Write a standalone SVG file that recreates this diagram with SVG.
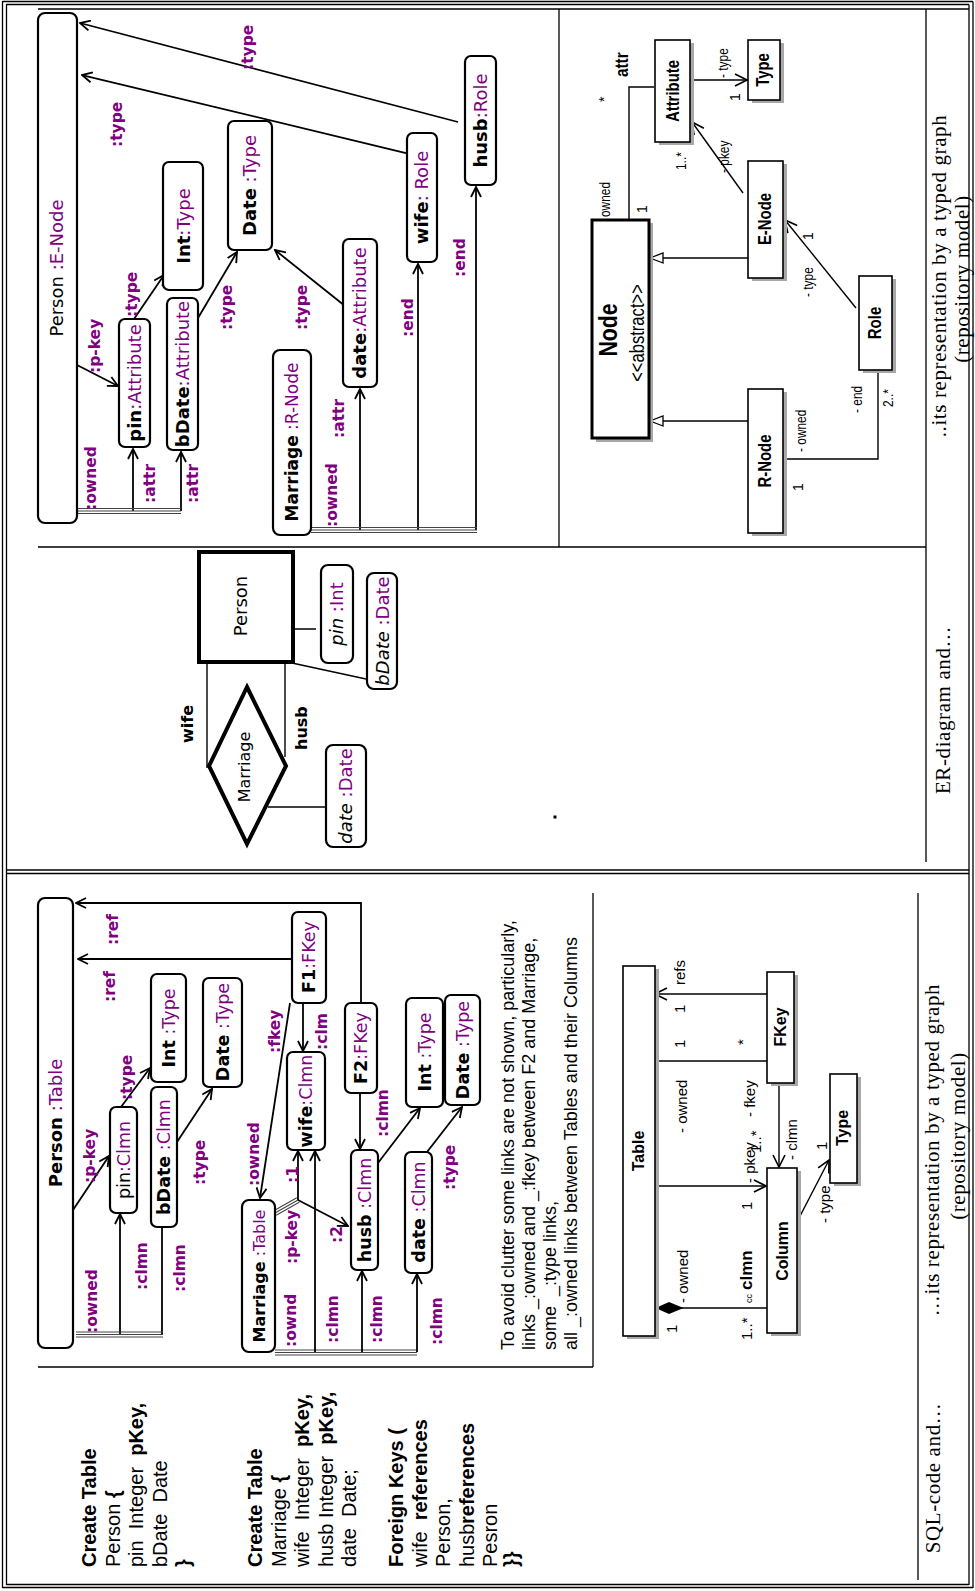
<svg xmlns="http://www.w3.org/2000/svg" width="975" height="1591" viewBox="0 0 975 1591">
<style>
text{font-family:"DejaVu Sans","Liberation Sans",sans-serif;font-size:18px;fill:#000}
.m{text-anchor:middle}
.b{font-weight:bold}
.p{fill:#800080}
.lb{font-size:15.5px;font-weight:bold;fill:#800080}
.er{font-size:18px}
.i{font-style:italic}
.u{font-family:"Liberation Sans",Arial,sans-serif;font-size:18px}
.us{font-family:"Liberation Sans",Arial,sans-serif;font-size:14px}
.ub{font-family:"Liberation Sans",Arial,sans-serif;font-size:16px;font-weight:bold}
.ul2{font-family:"Liberation Sans",Arial,sans-serif;font-size:15px}
.cap{font-family:"Liberation Serif","Times New Roman",serif;font-size:21px;letter-spacing:0.6px}
.sql{font-family:"Liberation Sans",Arial,sans-serif;font-size:20px}
.note{font-family:"Liberation Sans",Arial,sans-serif;font-size:18px}
.nd{fill:#fff;stroke:#000;stroke-width:2.2}
.uml{fill:#fff;stroke:#000;stroke-width:1.6}
.sh{fill:#a8a8a8}
.ln{fill:none;stroke:#000;stroke-width:1.8}
.ul{fill:none;stroke:#000;stroke-width:1.4}
.fr{fill:none;stroke:#000;stroke-width:1.3}
.tr{fill:none;stroke:#444;stroke-width:1.1}
</style>
<defs>
<marker id="a" viewBox="0 0 12 12" refX="11" refY="6" markerWidth="12" markerHeight="12" markerUnits="userSpaceOnUse" orient="auto"><path d="M1,1 L11,6 L1,11" fill="none" stroke="#000" stroke-width="1.8"/></marker>
<marker id="ua" viewBox="0 0 14 14" refX="13" refY="7" markerWidth="14" markerHeight="14" markerUnits="userSpaceOnUse" orient="auto"><path d="M1,1 L13,7 L1,13" fill="none" stroke="#000" stroke-width="1.6"/></marker>
<marker id="gen" viewBox="0 0 15 12" refX="14" refY="6" markerWidth="15" markerHeight="12" markerUnits="userSpaceOnUse" orient="auto"><path d="M1,1 L14,6 L1,11 Z" fill="#fff" stroke="#000" stroke-width="1.3"/></marker>
<marker id="dia" viewBox="0 0 29 14" refX="0" refY="7" markerWidth="29" markerHeight="14" markerUnits="userSpaceOnUse" orient="auto"><path d="M0.5,7 L14,1 L28.5,7 L14,13 Z" fill="#000"/></marker>
</defs>

<g id="frame">
<path class="fr" d="M2.5,1 V1588 M6.5,4 V1585 M2.5,1.5 H973 M6.5,4.5 H969 M969,4.5 V1585 M973,1.5 V1588 M2.5,1587.5 H973 M6.5,1584.5 H969"/>
<path class="fr" d="M38,9 H969 M38,547 H926 M559,9 V547 M926,9 V862 M6.5,870 H969 M6.5,873.5 H969 M593,893 V1367 M918,893 V1580 M38,1367 H593"/>
<rect x="553.5" y="815.5" width="3" height="3" fill="#000"/>
</g>

<g id="captions">
<text class="cap m" transform="translate(946,276) rotate(-90)">..its representation by a typed graph</text>
<text class="cap m" transform="translate(969,279) rotate(-90)">(repository model)</text>
<text class="cap m" transform="translate(950,710) rotate(-90)">ER-diagram and…</text>
<text class="cap m" transform="translate(939,1150) rotate(-90)">…its representation by a typed graph</text>
<text class="cap m" transform="translate(965,1136) rotate(-90)">(repository model)</text>
<text class="cap m" transform="translate(940,1478) rotate(-90)">SQL-code and…</text>
</g>

<g id="connectors">
<path class="ln" marker-end="url(#a)" d="M458,122 L80,23"/>
<path class="ln" marker-end="url(#a)" d="M406,153 L82,75"/>
<path class="ln" marker-end="url(#a)" d="M77,365 L118,386"/>
<path class="ln" marker-end="url(#a)" d="M134,319 L164,275"/>
<path class="ln" marker-end="url(#a)" d="M198,318 L237,252"/>
<path class="ln" marker-end="url(#a)" d="M345,306 L275,250"/>
<path class="ln" marker-end="url(#a)" d="M133,511 L133,449"/>
<path class="ln" marker-end="url(#a)" d="M181,511 L181,452"/>
<path class="ln" marker-end="url(#a)" d="M360,530 L360,389"/>
<path class="ln" marker-end="url(#a)" d="M418,530 L418,264"/>
<path class="ln" marker-end="url(#a)" d="M476,530 L476,187"/>
<path class="tr" d="M78,508.5 H181 M78,511 H181 M78,513.5 H181"/>
<path class="tr" d="M311,527.5 H477 M311,530 H477 M311,532.5 H477"/>

<path class="ul" marker-end="url(#ua)" d="M690,80 H747"/>
<path class="ul" d="M629,220 V87 H654"/>
<path class="ul" marker-end="url(#gen)" d="M748,258 H650"/>
<path class="ul" marker-end="url(#gen)" d="M748,421 H650"/>
<path class="ul" marker-end="url(#ua)" d="M743,193 L692,122"/>
<path class="ul" marker-end="url(#ua)" d="M856,308 L785,220"/>
<path class="ul" d="M783,459 H878 V370"/>

<path class="ul" d="M207,662 V768 M285,662 V757 M293,629 H316 M292,663 L366,679 M268,807 H326"/>

<path class="ln" marker-end="url(#a)" d="M361,1003 V903 H76"/>
<path class="ln" marker-end="url(#a)" d="M292,959 H78"/>
<path class="ln" marker-end="url(#a)" d="M290,1003 L260,1198"/>
<path class="ln" marker-end="url(#a)" d="M303,1003 V1051"/>
<path class="ln" marker-end="url(#a)" d="M360,1093 V1149"/>
<path class="ln" marker-end="url(#a)" d="M378,1163 L420,1108"/>
<path class="ln" marker-end="url(#a)" d="M427,1152 L462,1107"/>
<path class="ln" marker-end="url(#a)" d="M121,1107 L150,1068"/>
<path class="ln" marker-end="url(#a)" d="M177,1142 L212,1089"/>
<path class="ln" marker-end="url(#a)" d="M73,1210 L109,1156"/>
<path class="ln" marker-end="url(#a)" d="M120,1334 V1214"/>
<path class="ln" d="M162,1334 V1228"/>
<path class="tr" d="M76,1332 H163 M76,1334.5 H163 M76,1337 H163"/>
<path class="tr" d="M273.8,1210.8 L296.8,1197.8 M275,1213 L298,1200 M276.2,1215.2 L299.2,1202.2"/>
<path class="ln" marker-end="url(#a)" d="M298,1200 V1151"/>
<path class="ln" marker-end="url(#a)" d="M298,1200 L348,1226"/>
<path class="tr" d="M275,1350 H417 M275,1352.5 H417 M275,1355 H417"/>
<path class="ln" marker-end="url(#a)" d="M315,1352 V1151"/>
<path class="ln" marker-end="url(#a)" d="M362,1352 V1271"/>
<path class="ln" marker-end="url(#a)" d="M417,1352 V1274"/>

<path class="ul" marker-end="url(#ua)" d="M767,994 H655"/>
<path class="ul" d="M654,1061 H767"/>
<path class="ul" marker-end="url(#ua)" d="M654,1186 H766"/>
<path class="ul" marker-end="url(#ua)" d="M779,1083 V1167"/>
<path class="ul" marker-end="url(#ua)" d="M798,1220 L829,1160"/>
<path class="ul" marker-start="url(#dia)" d="M655,1308 H767"/>
</g>

<g id="edge-labels">
<text class="lb" transform="translate(253,70) rotate(-90)">:type</text>
<text class="lb" transform="translate(122,147) rotate(-90)">:type</text>
<text class="lb" transform="translate(100,373) rotate(-90)">:p-key</text>
<text class="lb" transform="translate(137,317) rotate(-90)">:type</text>
<text class="lb" transform="translate(232,330) rotate(-90)">:type</text>
<text class="lb" transform="translate(307,330) rotate(-90)">:type</text>
<text class="lb" transform="translate(96,510) rotate(-90)">:owned</text>
<text class="lb" transform="translate(155,503) rotate(-90)">:attr</text>
<text class="lb" transform="translate(198,503) rotate(-90)">:attr</text>
<text class="lb" transform="translate(337,527) rotate(-90)">:owned</text>
<text class="lb" transform="translate(344,438) rotate(-90)">:attr</text>
<text class="lb" transform="translate(413,337) rotate(-90)">:end</text>
<text class="lb" transform="translate(465,277) rotate(-90)">:end</text>

<text class="lb" transform="translate(118,945) rotate(-90)">:ref</text>
<text class="lb" transform="translate(115,1002) rotate(-90)">:ref</text>
<text class="lb" transform="translate(280,1053) rotate(-90)">:fkey</text>
<text class="lb" transform="translate(259,1186) rotate(-90)">:owned</text>
<text class="lb" transform="translate(327,1050) rotate(-90)">:clm</text>
<text class="lb" transform="translate(388,1137) rotate(-90)">:clmn</text>
<text class="lb" transform="translate(132,1100) rotate(-90)">:type</text>
<text class="lb" transform="translate(205,1185) rotate(-90)">:type</text>
<text class="lb" transform="translate(455,1190) rotate(-90)">:type</text>
<text class="lb" transform="translate(95,1183) rotate(-90)">:p-key</text>
<text class="lb" transform="translate(97,1333) rotate(-90)">:owned</text>
<text class="lb" transform="translate(147,1290) rotate(-90)">:clmn</text>
<text class="lb" transform="translate(185,1292) rotate(-90)">:clmn</text>
<text class="lb" transform="translate(297,1264) rotate(-90)">:p-key</text>
<text class="lb" transform="translate(298,1183) rotate(-90)">:1</text>
<text class="lb" transform="translate(342,1243) rotate(-90)">:2</text>
<text class="lb" transform="translate(296,1347) rotate(-90)">:ownd</text>
<text class="lb" transform="translate(338,1343) rotate(-90)">:clmn</text>
<text class="lb" transform="translate(382,1343) rotate(-90)">:clmn</text>
<text class="lb" transform="translate(442,1345) rotate(-90)">:clmn</text>

<text class="u b" transform="translate(628,77) rotate(-90) scale(0.85,1)">attr</text>
<text class="us" transform="translate(609,102) rotate(-90)">*</text>
<text class="us" transform="translate(728,78) rotate(-90) scale(0.85,1)">- type</text>
<text class="us" transform="translate(740,101) rotate(-90)">1</text>
<text class="us" transform="translate(610,217) rotate(-90) scale(0.85,1)">owned</text>
<text class="us" transform="translate(647,213) rotate(-90)">1</text>
<text class="us" transform="translate(729,173) rotate(-90) scale(0.85,1)">- pkey</text>
<text class="us" transform="translate(686,170) rotate(-90) scale(0.85,1)">1..*</text>
<text class="us" transform="translate(813,297) rotate(-90) scale(0.85,1)">- type</text>
<text class="us" transform="translate(813,240) rotate(-90)">1</text>
<text class="us" transform="translate(806,452) rotate(-90) scale(0.85,1)">- owned</text>
<text class="us" transform="translate(803,491) rotate(-90)">1</text>
<text class="us" transform="translate(862,413) rotate(-90) scale(0.85,1)">- end</text>
<text class="us" transform="translate(893,407) rotate(-90) scale(0.85,1)">2..*</text>

<text class="b er" transform="translate(193,743) rotate(-90)" style="font-size:16px">wife</text>
<text class="b er" transform="translate(307,750) rotate(-90)" style="font-size:16px">husb</text>

<text class="ul2" transform="translate(685,985) rotate(-90)">refs</text>
<text class="ul2" transform="translate(685,1013) rotate(-90)">1</text>
<text class="ul2" transform="translate(685,1048) rotate(-90)">1</text>
<text class="ul2" transform="translate(748,1045) rotate(-90)">*</text>
<text class="ul2" transform="translate(687,1133) rotate(-90)">- owned</text>
<text class="ul2" transform="translate(755,1117) rotate(-90)">- fkey</text>
<text class="ul2" transform="translate(752,1210) rotate(-90)">1</text>
<text class="ul2" transform="translate(755,1183) rotate(-90)">- pkey</text>
<text class="ul2" transform="translate(761,1153) rotate(-90)">1..*</text>
<text class="ul2" transform="translate(797,1160) rotate(-90)">- clmn</text>
<text class="ul2" transform="translate(830,1223) rotate(-90)">- type</text>
<text class="ul2" transform="translate(827,1150) rotate(-90)">1</text>
<text class="ul2" transform="translate(688,1303) rotate(-90)">- owned</text>
<text class="ul2" transform="translate(677,1333) rotate(-90)">1</text>
<text class="ul2" transform="translate(752,1340) rotate(-90)">1..*</text>
<text class="ub" transform="translate(752,1290) rotate(-90)" style="font-size:17px">clmn</text>
<text class="ul2" transform="translate(752,1303) rotate(-90)" style="font-size:9px">cc</text>
</g>

<g id="person-enode"><rect class="nd" x="38" y="13" width="39" height="510" rx="7"/><text class="m" transform="translate(63,268) rotate(-90)">Person <tspan class="p">:E-Node</tspan></text></g>
<g id="pin-attr"><rect class="nd" x="119" y="319" width="31" height="128" rx="6"/><text class="m" transform="translate(141,383) rotate(-90)"><tspan class="b">pin</tspan><tspan class="p">:Attribute</tspan></text></g>
<g id="bdate-attr"><rect class="nd" x="167" y="298" width="31" height="152" rx="6"/><text class="m" transform="translate(189,374) rotate(-90)"><tspan class="b">bDate</tspan><tspan class="p">:Attribute</tspan></text></g>
<g id="int-type"><rect class="nd" x="163" y="162" width="40" height="128" rx="6"/><text class="m" transform="translate(189.5,226) rotate(-90)"><tspan class="b">Int</tspan><tspan class="p">:Type</tspan></text></g>
<g id="date-type"><rect class="nd" x="228" y="121" width="44" height="129" rx="6"/><text class="m" transform="translate(256,185.5) rotate(-90)"><tspan class="b">Date</tspan> <tspan class="p">:Type</tspan></text></g>
<g id="date-attr"><rect class="nd" x="343" y="239" width="34" height="148" rx="6"/><text class="m" transform="translate(366,313) rotate(-90)"><tspan class="b">date</tspan><tspan class="p">:Attribute</tspan></text></g>
<g id="wife-role"><rect class="nd" x="407" y="133" width="30" height="129" rx="6"/><text class="m" transform="translate(428,197.5) rotate(-90)"><tspan class="b">wife</tspan><tspan class="p">: Role</tspan></text></g>
<g id="husb-role"><rect class="nd" x="465" y="56" width="31" height="129" rx="6"/><text class="m" transform="translate(487,120.5) rotate(-90)"><tspan class="b">husb</tspan><tspan class="p">:Role</tspan></text></g>
<g id="marriage-rnode"><rect class="nd" x="273" y="350" width="38" height="185" rx="7"/><text class="m" transform="translate(298,442) rotate(-90)" style="font-size:17px"><tspan class="b">Marriage</tspan> <tspan class="p">:R-Node</tspan></text></g>

<g id="uml-attribute"><rect class="sh" x="659" y="43" width="35" height="102"/><rect class="uml" x="655" y="40" width="35" height="102"/><text class="u b m" transform="translate(679,91) rotate(-90) scale(0.83,1)">Attribute</text></g>
<g id="uml-type"><rect class="sh" x="752" y="43" width="32" height="60"/><rect class="uml" x="748" y="40" width="32" height="60"/><text class="u b m" transform="translate(769,70) rotate(-90) scale(0.83,1)">Type</text></g>
<g id="uml-node"><rect class="sh" x="596" y="223" width="57" height="219"/><rect class="uml" x="592" y="220" width="57" height="218" style="stroke-width:3"/><text class="u b m" transform="translate(617,330) rotate(-90) scale(0.85,1)" style="font-size:25px">Node</text><text class="u m" transform="translate(644,333) rotate(-90) scale(0.83,1)" style="font-size:20px">&lt;&lt;abstract&gt;&gt;</text></g>
<g id="uml-enode"><rect class="sh" x="752" y="164" width="35" height="117"/><rect class="uml" x="748" y="161" width="35" height="117"/><text class="u b m" transform="translate(771,219) rotate(-90) scale(0.83,1)">E-Node</text></g>
<g id="uml-role"><rect class="sh" x="863" y="279" width="33" height="94"/><rect class="uml" x="859" y="276" width="33" height="94"/><text class="u b m" transform="translate(881,323) rotate(-90) scale(0.83,1)">Role</text></g>
<g id="uml-rnode"><rect class="sh" x="752" y="392" width="35" height="144"/><rect class="uml" x="748" y="389" width="35" height="144"/><text class="u b m" transform="translate(771,461) rotate(-90) scale(0.83,1)">R-Node</text></g>

<g id="er-person"><rect x="199" y="552" width="94" height="110" fill="#fff" stroke="#000" stroke-width="4"/><text class="m" transform="translate(247,606) rotate(-90)">Person</text></g>
<g id="er-pin"><rect class="nd" x="321" y="565" width="32" height="98" rx="7"/><text class="m" transform="translate(343,614) rotate(-90)"><tspan class="i">pin</tspan> <tspan class="p">:Int</tspan></text></g>
<g id="er-bdate"><rect class="nd" x="367" y="573" width="30" height="116" rx="7"/><text class="m" transform="translate(389,631) rotate(-90)"><tspan class="i">bDate</tspan> <tspan class="p">:Date</tspan></text></g>
<g id="er-marriage"><path d="M247,687 L286,766 L247,844 L209,766 Z" fill="#fff" stroke="#000" stroke-width="4"/><text class="m" transform="translate(250,767) rotate(-90)" style="font-size:16px">Marriage</text></g>
<g id="er-date"><rect class="nd" x="326" y="745" width="40" height="102" rx="7"/><text class="m" transform="translate(352,796) rotate(-90)"><tspan class="i">date</tspan> <tspan class="p">:Date</tspan></text></g>

<g id="person-table"><rect class="nd" x="38" y="898" width="35" height="450" rx="7"/><text class="m" transform="translate(62,1123) rotate(-90)"><tspan class="b">Person</tspan> <tspan class="p">:Table</tspan></text></g>
<g id="pin-clmn"><rect class="nd" x="110" y="1107" width="27" height="106" rx="6"/><text class="m" transform="translate(129.5,1160) rotate(-90)" style="font-size:17.5px">pin<tspan class="p">:Clmn</tspan></text></g>
<g id="bdate-clmn"><rect class="nd" x="151" y="1087" width="26" height="140" rx="6"/><text class="m" transform="translate(170,1157) rotate(-90)" style="font-size:17.5px"><tspan class="b">bDate</tspan> <tspan class="p">:Clmn</tspan></text></g>
<g id="int-type-1"><rect class="nd" x="151" y="974" width="35" height="108" rx="6"/><text class="m" transform="translate(175,1028) rotate(-90)" style="font-size:17.5px"><tspan class="b">Int</tspan> <tspan class="p">:Type</tspan></text></g>
<g id="date-type-1"><rect class="nd" x="203" y="978" width="39" height="109" rx="6"/><text class="m" transform="translate(229,1032) rotate(-90)" style="font-size:17.5px"><tspan class="b">Date</tspan> <tspan class="p">:Type</tspan></text></g>
<g id="f1-fkey"><rect class="nd" x="292" y="912" width="34" height="91" rx="6"/><text class="m" transform="translate(315,957) rotate(-90)" style="font-size:17.5px"><tspan class="b">F1</tspan><tspan class="p">:FKey</tspan></text></g>
<g id="f2-fkey"><rect class="nd" x="345" y="1003" width="32" height="90" rx="6"/><text class="m" transform="translate(367,1048) rotate(-90)" style="font-size:17.5px"><tspan class="b">F2</tspan><tspan class="p">:FKey</tspan></text></g>
<g id="wife-clmn"><rect class="nd" x="287" y="1052" width="38" height="98" rx="6"/><text class="m" transform="translate(312,1101) rotate(-90)" style="font-size:17.5px"><tspan class="b">wife</tspan><tspan class="p">:Clmn</tspan></text></g>
<g id="husb-clmn"><rect class="nd" x="351" y="1150" width="27" height="120" rx="6"/><text class="m" transform="translate(371,1210) rotate(-90)" style="font-size:17.5px"><tspan class="b">husb</tspan> <tspan class="p">:Clmn</tspan></text></g>
<g id="int-type-2"><rect class="nd" x="406" y="998" width="37" height="109" rx="6"/><text class="m" transform="translate(431,1052) rotate(-90)" style="font-size:17.5px"><tspan class="b">Int</tspan> <tspan class="p">:Type</tspan></text></g>
<g id="date-type-2"><rect class="nd" x="445" y="995" width="35" height="110" rx="6"/><text class="m" transform="translate(469,1050) rotate(-90)" style="font-size:17.5px"><tspan class="b">Date</tspan> <tspan class="p">:Type</tspan></text></g>
<g id="date-clmn"><rect class="nd" x="405" y="1152" width="27" height="121" rx="6"/><text class="m" transform="translate(425,1212) rotate(-90)" style="font-size:17.5px"><tspan class="b">date</tspan> <tspan class="p">:Clmn</tspan></text></g>
<g id="marriage-table"><rect class="nd" x="242" y="1200" width="33" height="152" rx="7"/><text class="m" transform="translate(265,1276) rotate(-90)" style="font-size:16px"><tspan class="b">Marriage</tspan> <tspan class="p">:Table</tspan></text></g>

<g id="note">
<text class="note" transform="translate(514,1350) rotate(-90)">To avoid clutter some links are not shown, particularly,</text>
<text class="note" transform="translate(535,1350) rotate(-90)">links _:owned and _:fkey between F2 and Marriage,</text>
<text class="note" transform="translate(556,1350) rotate(-90)" xml:space="preserve">some  _:type links,</text>
<text class="note" transform="translate(577,1350) rotate(-90)">all _:owned links between Tables and their Columns</text>
</g>

<g id="uml-table"><rect class="sh" x="627" y="969" width="32" height="370"/><rect class="uml" x="623" y="966" width="32" height="370"/><text class="ub m" transform="translate(644,1151) rotate(-90)">Table</text></g>
<g id="uml-fkey"><rect class="sh" x="771" y="975" width="27" height="111"/><rect class="uml" x="767" y="972" width="27" height="111"/><text class="ub m" transform="translate(786,1027) rotate(-90)">FKey</text></g>
<g id="uml-column"><rect class="sh" x="771" y="1171" width="30" height="165"/><rect class="uml" x="767" y="1168" width="30" height="165"/><text class="ub m" transform="translate(788,1251) rotate(-90)">Column</text></g>
<g id="uml-type2"><rect class="sh" x="834" y="1077" width="27" height="109"/><rect class="uml" x="830" y="1074" width="27" height="109"/><text class="ub m" transform="translate(848,1128) rotate(-90)">Type</text></g>

<g id="sql">
<text class="sql b" transform="translate(96,1567) rotate(-90)">Create Table</text>
<text class="sql" transform="translate(119.5,1567) rotate(-90)">Person <tspan class="b">{</tspan></text>
<text class="sql" transform="translate(143,1567) rotate(-90)" xml:space="preserve">pin  Integer  <tspan class="b">pKey,</tspan></text>
<text class="sql" transform="translate(166.5,1567) rotate(-90)" xml:space="preserve">bDate  Date</text>
<text class="sql b" transform="translate(190,1567) rotate(-90)">}</text>
<text class="sql b" transform="translate(262,1567) rotate(-90)">Create Table</text>
<text class="sql" transform="translate(285.5,1567) rotate(-90)">Marriage <tspan class="b">{</tspan></text>
<text class="sql" transform="translate(309,1567) rotate(-90)" xml:space="preserve">wife  Integer  <tspan class="b">pKey,</tspan></text>
<text class="sql" transform="translate(332.5,1567) rotate(-90)" xml:space="preserve">husb Integer  <tspan class="b">pKey,</tspan></text>
<text class="sql" transform="translate(356,1567) rotate(-90)" xml:space="preserve">date  Date;</text>
<text class="sql b" transform="translate(403,1567) rotate(-90)">Foreign Keys (</text>
<text class="sql" transform="translate(426.5,1567) rotate(-90)" xml:space="preserve">wife  <tspan class="b">references</tspan></text>
<text class="sql" transform="translate(450,1567) rotate(-90)">Person,</text>
<text class="sql" transform="translate(473.5,1567) rotate(-90)">husb</text>
<text class="sql b" transform="translate(473.5,1524) rotate(-90)">references</text>
<text class="sql" transform="translate(497,1567) rotate(-90)">Pesron</text>
<text class="sql b" transform="translate(518,1567) rotate(-90)">}}</text>
</g>
</svg>
